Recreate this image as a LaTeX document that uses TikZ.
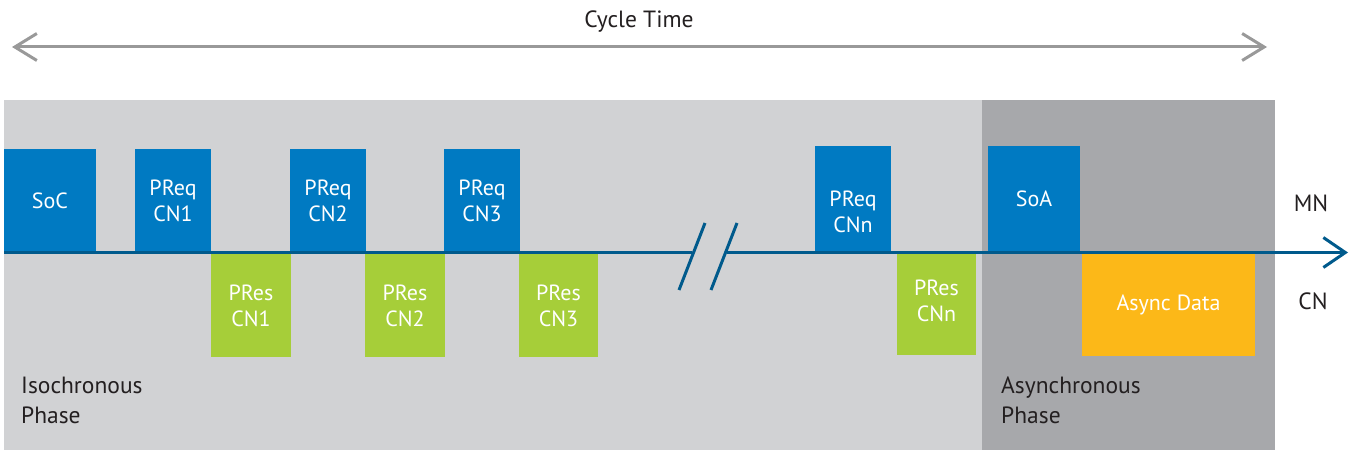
\documentclass[tikz,border=0pt]{standalone}
\usepackage{fontspec}
\setmainfont{PT Sans}
\usetikzlibrary{arrows.meta}
\definecolor{bgiso}{RGB}{209,210,212}
\definecolor{bgasync}{RGB}{167,168,171}
\definecolor{reqblue}{RGB}{0,122,194}
\definecolor{lineblue}{RGB}{0,90,140}
\definecolor{resgreen}{RGB}{166,206,57}
\definecolor{asyncorange}{RGB}{252,184,24}
\definecolor{arrowgray}{RGB}{153,153,153}
\definecolor{textdark}{RGB}{35,31,32}
\tikzset{
  lbl/.style={font=\fontsize{23.5}{30}\selectfont, text=textdark, inner sep=0pt},
  frame/.style={inner sep=0pt, outer sep=0pt, anchor=north west, text=white,
     font=\fontsize{22}{26}\selectfont, align=center},
  reqbox/.style={frame, fill=reqblue},
  resbox/.style={frame, fill=resgreen},
  asyncbox/.style={frame, fill=asyncorange},
  boxtext/.style={inner sep=0pt, text=white, font=\fontsize{22}{26}\selectfont, align=center},
}
\begin{document}
\begin{tikzpicture}[x=1pt,y=-1pt]
\useasboundingbox (0,0) rectangle (1355,452);
% phase backgrounds
\fill[bgiso] (4,100) rectangle (982,450);
\fill[bgasync] (982,100) rectangle (1275,450);
% cycle time arrow
\coordinate (ctl) at (12,47);
\coordinate (ctr) at (1267,47);
\draw[arrowgray, line width=3pt, {Straight Barb[length=22pt, width=27pt, line width=3pt]}-{Straight Barb[length=22pt, width=27pt, line width=3pt]}] (ctl) -- (ctr);
\node[lbl, anchor=base] (ct) at (639,28) {Cycle Time};
% request frames
\node[reqbox, minimum width=92, minimum height=103] (soc) at (4,149) {SoC};
\node[reqbox, minimum width=76, minimum height=103] (preq1) at (135,149) {PReq\\CN1};
\node[reqbox, minimum width=76, minimum height=103] (preq2) at (290,149) {PReq\\CN2};
\node[reqbox, minimum width=76, minimum height=103] (preq3) at (444,149) {PReq\\CN3};
\node[reqbox, minimum width=76, minimum height=106] (preqn) at (815,146) {};
\node[boxtext] (preqn-t) at ([yshift=-13pt]preqn.center) {PReq\\CNn};
\node[reqbox, minimum width=92, minimum height=106] (soa) at (988,146) {SoA};
% response frames
\node[resbox, minimum width=80, minimum height=103] (pres1) at (211,254) {PRes\\CN1};
\node[resbox, minimum width=80, minimum height=103] (pres2) at (365,254) {PRes\\CN2};
\node[resbox, minimum width=79, minimum height=103] (pres3) at (519,254) {PRes\\CN3};
\node[resbox, minimum width=79, minimum height=102] (presn) at (897,253) {};
\node[boxtext] (presn-t) at ([yshift=3pt]presn.center) {PRes\\CNn};
\node[asyncbox, minimum width=173, minimum height=102] (async) at (1082,254) {Async Data};
% timeline
\coordinate (tstart) at (4,252.5);
\coordinate (tbreakA) at (692,252.5);
\coordinate (tbreakB) at (727,252.5);
\coordinate (tend) at (1348,252.5);
\draw[lineblue, line width=3pt] (tstart) -- (tbreakA);
\draw[lineblue, line width=3pt, -{Straight Barb[length=22pt, width=30pt, line width=3pt]}] (tbreakB) -- (tend);
% break marks
\coordinate (b1a) at (679,290);
\coordinate (b1b) at (705,223);
\coordinate (b2a) at (711,290);
\coordinate (b2b) at (737,223);
\draw[lineblue, line width=3pt] (b1a) -- (b1b);
\draw[lineblue, line width=3pt] (b2a) -- (b2b);
% labels
\node[lbl, anchor=base] (mn) at (1311,211) {MN};
\node[lbl, anchor=base] (cn) at (1313,309) {CN};
\node[lbl, anchor=base west, align=left] (iso) at (21,423) {Isochronous\\Phase};
\node[lbl, anchor=base west, align=left] (asy) at (1001,423) {Asynchronous\\Phase};
\end{tikzpicture}
\end{document}
